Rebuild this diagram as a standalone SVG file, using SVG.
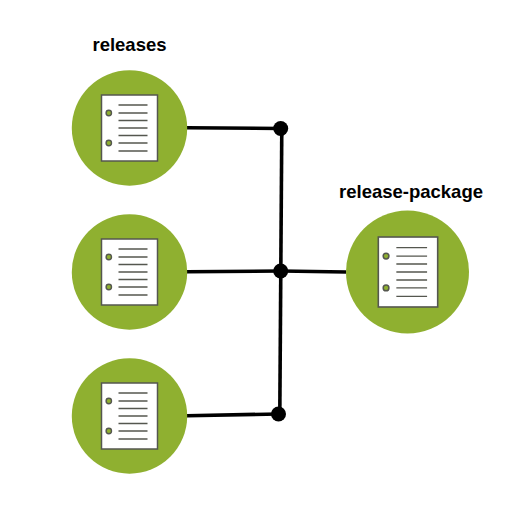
<svg xmlns="http://www.w3.org/2000/svg" xmlns:xlink="http://www.w3.org/1999/xlink" width="524" height="507" viewBox="0 0 524 507">
<style>
.bg{fill:#fff}
.disc{fill:#8fb030}
.page{fill:#fff;stroke:#55574f;stroke-width:1.5}
.ln{stroke:#55574f;stroke-width:1.3;fill:none}
.dot{fill:#8fb030;stroke:#55574f;stroke-width:1.4}
.wire{stroke:#000;stroke-width:3.6;fill:none}
.joint{fill:#000}
.label{font-family:"Liberation Sans",Arial,sans-serif;font-weight:700;font-size:18.500px;fill:#000;text-anchor:middle}
</style>
<defs>
<g id="doc">
<rect class="page" x="-28" y="-33" width="56" height="66"/>
<circle class="dot" cx="-20.700" cy="-15" r="2.700"/>
<circle class="dot" cx="-20.700" cy="15" r="2.700"/>
<path class="ln" d="M-11-23H18M-11-15H18M-11-7.500H18M-11 0H18M-11 7.500H18M-11 15H18M-11 23H18"/>
</g>
</defs>
<rect class="bg" width="524" height="507"/>
<g id="connectors">
<path class="wire" d="M187 127.800L281 128.500"/>
<path class="wire" d="M187 271.800L281 271"/>
<path class="wire" d="M187 415.700L279 414"/>
<path class="wire" d="M281 271L346 272"/>
<path class="wire" d="M281.800 128.500L279.800 414"/>
<circle class="joint" cx="280.700" cy="128.500" r="7.500"/>
<circle class="joint" cx="280.700" cy="271" r="7.500"/>
<circle class="joint" cx="278.500" cy="414" r="7.500"/>
</g>
<g id="release-1">
<circle class="disc" cx="129.500" cy="128" r="57.700"/>
<use xlink:href="#doc" href="#doc" x="129.500" y="128"/>
<text class="label" x="129.500" y="51">releases</text>
</g>
<g id="release-2">
<circle class="disc" cx="129.500" cy="272" r="57.700"/>
<use xlink:href="#doc" href="#doc" x="129.500" y="272"/>
</g>
<g id="release-3">
<circle class="disc" cx="129.500" cy="416" r="57.700"/>
<use xlink:href="#doc" href="#doc" x="129.500" y="416"/>
</g>
<g id="release-package">
<circle class="disc" cx="407.500" cy="272" r="61.500"/>
<g transform="translate(408 272) scale(1.060)"><use xlink:href="#doc" href="#doc"/></g>
<text class="label" x="411" y="198">release-package</text>
</g>
</svg>
